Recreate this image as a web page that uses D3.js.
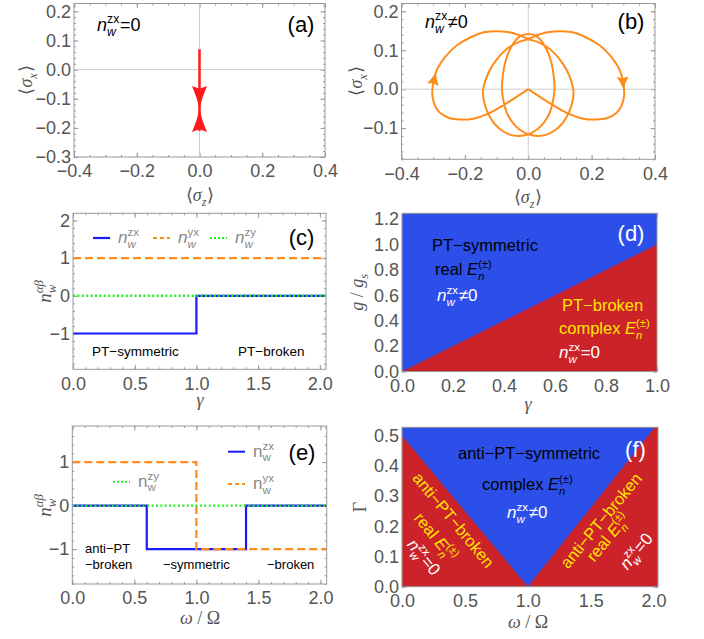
<!DOCTYPE html>
<meta charset="utf-8">
<style>
body { margin: 0; background: #fff; }
text { font-family: 'Liberation Sans', Arial, sans-serif; }
.tick text { font-size: 18px; fill: #555; }
.tick line { stroke: #999; }
</style>
<body>
<script src="https://d3js.org/d3.v7.min.js"></script>
<script>

// ---- tick labels ----
var xTicksAB = [-0.4, -0.2, 0, 0.2, 0.4],
    yTicksA = [-0.3, -0.2, -0.1, 0, 0.1, 0.2],
    yTicksB = [-0.1, 0, 0.1, 0.2],
    xTicksCE = [0, 0.5, 1, 1.5, 2],
    yTicksC = [-1, 0, 1, 2],
    yTicksE = [-1, 0, 1],
    xTicksD = [0, 0.2, 0.4, 0.6, 0.8, 1],
    yTicksD = [0, 0.2, 0.4, 0.6, 0.8, 1, 1.2],
    xTicksF = [0, 0.5, 1, 1.5, 2],
    yTicksF = [0, 0.1, 0.2, 0.3, 0.4, 0.5];

// ---- (a) trajectory: stem ends and arrow tips ----
var aDown = [[0, 0.070], [0, -0.135]],
    aUp = [[0, -0.210], [0, -0.135]];

// ---- (b) trajectory (<sz>, <sx>) ----
var bPath = [
  [0, 0],
  // left loop and big left arc
  [-0.045, -0.024], [-0.089, -0.046], [-0.13, -0.064], [-0.17, -0.075], [-0.215, -0.078],
  [-0.25, -0.074], [-0.277, -0.062], [-0.294, -0.043], [-0.302, -0.02], [-0.302, 0.005],
  [-0.296, 0.032], [-0.283, 0.058], [-0.26, 0.085], [-0.226, 0.112], [-0.18, 0.134],
  [-0.14, 0.146], [-0.1, 0.149], [-0.06, 0.146], [-0.03, 0.139], [0, 0.129],
  // right lobe, upper right
  [0.036, 0.119], [0.07, 0.102], [0.1, 0.076], [0.122, 0.048], [0.136, 0.02], [0.143, -0.008],
  // right lobe, bottom
  [0.138, -0.037], [0.128, -0.06], [0.11, -0.085], [0.0865, -0.104], [0.06, -0.116], [0.03, -0.12],
  [0, -0.1157], [-0.0265, -0.104], [-0.05, -0.085], [-0.068, -0.06], [-0.078, -0.031], [-0.083, 0],
  // small top arch
  [-0.08, 0.037], [-0.072, 0.071], [-0.059, 0.1], [-0.0415, 0.124], [-0.0215, 0.138], [0, 0.142],
  [0.0215, 0.138], [0.0415, 0.124], [0.059, 0.1], [0.072, 0.071], [0.08, 0.037], [0.083, 0],
  // left lobe, bottom
  [0.078, -0.031], [0.068, -0.06], [0.05, -0.085], [0.0265, -0.104], [0, -0.1157], [-0.03, -0.12],
  [-0.06, -0.116], [-0.0865, -0.104], [-0.11, -0.085], [-0.128, -0.06], [-0.138, -0.037], [-0.143, -0.008],
  // left lobe, upper left
  [-0.136, 0.02], [-0.122, 0.048], [-0.1, 0.076], [-0.07, 0.102], [-0.036, 0.119], [0, 0.129],
  // big right arc and right loop
  [0.03, 0.139], [0.06, 0.146], [0.1, 0.149], [0.14, 0.146], [0.18, 0.134], [0.226, 0.112],
  [0.26, 0.085], [0.283, 0.058], [0.296, 0.032], [0.302, 0.005], [0.302, -0.02], [0.294, -0.043],
  [0.277, -0.062], [0.25, -0.074], [0.215, -0.078], [0.17, -0.075], [0.13, -0.064], [0.089, -0.046],
  [0.045, -0.024], [0, 0]
];
var bArrows = [
  [[-0.301, 0.012], [-0.292, 0.043]],
  [[0.297, 0.050], [0.300, 0.000]]
];

// ---- (c) winding numbers vs gamma ----
var cZx = [[0, -1], [1, -1], [1, 0], [2.05, 0]],
    cYx = [[0, 1], [2.05, 1]],
    cZy = [[0, 0], [2.05, 0]];

// ---- (d) phase boundary g/gs = gamma ----
var dBroken = [[0, 0], [1, 1.0], [1, 0]];

// ---- (e) winding numbers vs omega/Omega ----
var eZx = [[0, 0], [0.6, 0], [0.6, -1], [1.4, -1], [1.4, 0], [2.05, 0]],
    eYx = [[0, 1], [1, 1], [1, -1], [2.05, -1]],
    eZy = [[0, 0], [2.05, 0]];

// ---- (f) anti-PT phase boundaries ----
var fBrokenLeft = [[0, 0], [0, 0.5], [1, 0]],
    fBrokenRight = [[1, 0], [2.01, 0.528], [2.035, 0.528], [2.035, 0]];

var SANS = "'Liberation Sans', Arial, sans-serif",
    SERIF = "'Liberation Serif', 'Times New Roman', serif";
var BLUE = "#1a1aff", ORANGE = "#ff8c1a", GREEN = "#22ee22",
    FILLBLUE = "#2d4fe9", FILLRED = "#cc2229", YELLOW = "#ffe600";
var SP = "\u00a0";

var svg = d3.select("body").append("svg")
    .attr("width", 704)
    .attr("height", 639);

function minor(dom, step) {
  return d3.range(Math.ceil(dom[0] / step - 1e-9), Math.floor(dom[1] / step + 1e-9) + 1)
    .map(function(i) { return +(i * step).toFixed(6); });
}

function panel(c) {
  var x = d3.scaleLinear().domain(c.xd).range([c.l, c.r]),
      y = d3.scaleLinear().domain(c.yd).range([c.b, c.t]);
  var g = svg.append("g");
  var mx = minor(c.xd, c.xm), my = minor(c.yd, c.ym);

  g.append("g").attr("transform", "translate(0," + c.b + ")")
    .call(d3.axisBottom(x).tickValues(mx).tickSize(-2).tickFormat(""));
  g.append("g").attr("transform", "translate(0," + c.b + ")")
    .call(d3.axisBottom(x).tickValues(c.xt).tickSize(-4.5).tickPadding(7.5).tickFormat(d3.format(c.fx)));
  g.append("g").attr("transform", "translate(0," + c.t + ")")
    .call(d3.axisTop(x).tickValues(mx).tickSize(-2).tickFormat(""));
  g.append("g").attr("transform", "translate(0," + c.t + ")")
    .call(d3.axisTop(x).tickValues(c.xt).tickSize(-4.5).tickFormat(""));
  g.append("g").attr("transform", "translate(" + c.l + ",0)")
    .call(d3.axisLeft(y).tickValues(my).tickSize(-2).tickFormat(""));
  g.append("g").attr("transform", "translate(" + c.l + ",0)")
    .call(d3.axisLeft(y).tickValues(c.yt).tickSize(-4.5).tickPadding(3).tickFormat(d3.format(c.fy)));
  g.append("g").attr("transform", "translate(" + c.r + ",0)")
    .call(d3.axisRight(y).tickValues(my).tickSize(-2).tickFormat(""));
  g.append("g").attr("transform", "translate(" + c.r + ",0)")
    .call(d3.axisRight(y).tickValues(c.yt).tickSize(-4.5).tickFormat(""));
  g.selectAll(".domain").remove();

  var p = g.append("g");
  g.append("rect")
    .attr("x", c.l).attr("y", c.t)
    .attr("width", c.r - c.l).attr("height", c.b - c.t)
    .attr("fill", "none").attr("stroke", "#999").attr("stroke-width", 1);
  return {g: g, p: p, x: x, y: y};
}

// rich text: parts are {t, it} runs or {sup, sub} stacked scripts
function rich(parent, x, y, parts, o) {
  o = Object.assign({size: 16, fill: "#000", anchor: "start", rot: 0, fam: SANS, vc: false}, o);
  var outer = parent.append("g").attr("fill", o.fill)
      .attr("transform", "translate(" + x + "," + y + ") rotate(" + o.rot + ")");
  var inner = outer.append("g");
  var cx = 0, s = o.size, ss = s * 0.68;
  parts.forEach(function(p) {
    if (p.t !== undefined) {
      var t = inner.append("text").attr("x", cx)
          .style("font-family", o.fam).style("font-size", s + "px")
          .style("font-style", p.it ? "italic" : "normal").text(p.t);
      cx += t.node().getComputedTextLength();
    } else {
      var w = 0;
      if (p.sup) {
        var a = inner.append("text").attr("x", cx).attr("y", -s * 0.42)
            .style("font-family", o.fam).style("font-size", ss + "px")
            .style("font-style", p.supIt ? "italic" : "normal").text(p.sup);
        w = Math.max(w, a.node().getComputedTextLength());
      }
      if (p.sub) {
        var b = inner.append("text").attr("x", cx).attr("y", s * 0.28)
            .style("font-family", o.fam).style("font-size", ss + "px")
            .style("font-style", p.subIt ? "italic" : "normal").text(p.sub);
        w = Math.max(w, b.node().getComputedTextLength());
      }
      cx += w + s * 0.04;
    }
  });
  var dx = o.anchor === "middle" ? -cx / 2 : (o.anchor === "end" ? -cx : 0);
  inner.attr("transform", "translate(" + dx + "," + (o.vc ? s * 0.35 : 0) + ")");
  return outer;
}

function nw(sup, tail, upright) {
  return [{t: "n", it: !upright}, {sup: sup, sub: "w", subIt: !upright}].concat(tail ? [{t: tail}] : []);
}
var En = [{t: "E", it: true}, {sup: "(\u00b1)", sub: "n", subIt: true}];
var sigma = function(c) { return [{t: "\u27e8"}, {t: "\u03c3", it: true}, {sub: c, subIt: true}, {t: "\u27e9"}]; };

function arrowHead(P, from, tip, L, hw, color) {
  var x0 = P.x(from[0]), y0 = P.y(from[1]), x1 = P.x(tip[0]), y1 = P.y(tip[1]);
  var dx = x1 - x0, dy = y1 - y0, d = Math.hypot(dx, dy),
      ux = dx / d, uy = dy / d, nx = -uy, ny = ux;
  var bx = x1 - ux * L, by = y1 - uy * L;
  var l = [bx + nx * hw, by + ny * hw], r = [bx - nx * hw, by - ny * hw],
      n = [x1 - ux * L * 0.88, y1 - uy * L * 0.88];
  var cl = [(x1 + l[0]) / 2 - nx * hw * 0.18, (y1 + l[1]) / 2 - ny * hw * 0.18],
      cr = [(x1 + r[0]) / 2 + nx * hw * 0.18, (y1 + r[1]) / 2 + ny * hw * 0.18];
  P.p.append("path")
    .attr("d", "M" + x1 + "," + y1 + "Q" + cl + " " + l + "L" + n + "L" + r + "Q" + cr + " " + x1 + "," + y1 + "Z")
    .attr("fill", color);
}

function zeroGrid(P) {
  P.p.append("line").attr("x1", P.x.range()[0]).attr("x2", P.x.range()[1])
    .attr("y1", P.y(0)).attr("y2", P.y(0)).attr("stroke", "#ccc");
  P.p.append("line").attr("x1", P.x(0)).attr("x2", P.x(0))
    .attr("y1", P.y.range()[0]).attr("y2", P.y.range()[1]).attr("stroke", "#ccc");
}

function lineOf(P) {
  return d3.line().x(function(d) { return P.x(d[0]); }).y(function(d) { return P.y(d[1]); });
}

// ================= (a) =================
var A = panel({l: 74, r: 325, t: 3.5, b: 157, xd: [-0.4, 0.4], yd: [-0.3, 0.227],
               xt: xTicksAB, yt: yTicksA, xm: 0.05, ym: 0.02, fx: ".1f", fy: ".1f"});
zeroGrid(A);
[aDown, aUp].forEach(function(s) {
  A.p.append("path").attr("d", lineOf(A)(s)).attr("stroke", "#ff1a1a")
    .attr("stroke-width", 2.5).attr("fill", "none");
  arrowHead(A, s[0], s[1], 23, 7.5, "#ff1a1a");
});

// ================= (b) =================
var B = panel({l: 401.5, r: 655, t: 3.5, b: 159.3, xd: [-0.4, 0.4], yd: [-0.18, 0.22],
               xt: xTicksAB, yt: yTicksB, xm: 0.05, ym: 0.02, fx: ".1f", fy: ".1f"});
zeroGrid(B);
B.p.append("path").attr("d", lineOf(B).curve(d3.curveCatmullRom.alpha(0.5))(bPath))
  .attr("stroke", ORANGE).attr("stroke-width", 2).attr("fill", "none");
bArrows.forEach(function(a) { arrowHead(B, a[0], a[1], 12.5, 6, ORANGE); });

// ================= (c) =================
var C = panel({l: 73, r: 326, t: 213.3, b: 369.3, xd: [0, 2.05], yd: [-1.95, 2.19],
               xt: xTicksCE, yt: yTicksC, xm: 0.1, ym: 0.2, fx: ".1f", fy: "d"});
C.p.append("path").attr("d", lineOf(C)(cZx)).attr("stroke", BLUE).attr("stroke-width", 2.2).attr("fill", "none");
C.p.append("path").attr("d", lineOf(C)(cYx)).attr("stroke", ORANGE).attr("stroke-width", 2.2)
  .attr("stroke-dasharray", "8,4").attr("fill", "none");
C.p.append("path").attr("d", lineOf(C)(cZy)).attr("stroke", GREEN).attr("stroke-width", 2.4)
  .attr("stroke-dasharray", "2,2.4").attr("fill", "none");

// ================= (d) =================
var D = panel({l: 402, r: 657, t: 213.3, b: 371.5, xd: [0, 1], yd: [0, 1.245],
               xt: xTicksD, yt: yTicksD, xm: 0.05, ym: 0.05, fx: ".1f", fy: ".1f"});
D.p.append("rect").attr("x", D.x(0)).attr("y", D.y(1.245))
  .attr("width", D.x(1) - D.x(0)).attr("height", D.y(0) - D.y(1.245)).attr("fill", FILLBLUE);
D.p.append("path").attr("d", lineOf(D)(dBroken) + "Z").attr("fill", FILLRED);

// ================= (e) =================
var E = panel({l: 72.3, r: 326.7, t: 426, b: 584, xd: [0, 2.05], yd: [-1.8, 1.83],
               xt: xTicksCE, yt: yTicksE, xm: 0.1, ym: 0.2, fx: ".1f", fy: "d"});
E.p.append("path").attr("d", lineOf(E)(eZx)).attr("stroke", BLUE).attr("stroke-width", 2.2).attr("fill", "none");
E.p.append("path").attr("d", lineOf(E)(eYx)).attr("stroke", ORANGE).attr("stroke-width", 2.2)
  .attr("stroke-dasharray", "8,4").attr("fill", "none");
E.p.append("path").attr("d", lineOf(E)(eZy)).attr("stroke", GREEN).attr("stroke-width", 2.4)
  .attr("stroke-dasharray", "2,2.4").attr("fill", "none");

// ================= (f) =================
var F = panel({l: 402, r: 658, t: 427.3, b: 586.7, xd: [0, 2.035], yd: [0, 0.528],
               xt: xTicksF, yt: yTicksF, xm: 0.1, ym: 0.02, fx: ".1f", fy: ".1f"});
F.p.append("rect").attr("x", F.x(0)).attr("y", F.y(0.528))
  .attr("width", F.x(2.035) - F.x(0)).attr("height", F.y(0) - F.y(0.528)).attr("fill", FILLBLUE);
[fBrokenLeft, fBrokenRight].forEach(function(poly) {
  F.p.append("path").attr("d", lineOf(F)(poly) + "Z").attr("fill", FILLRED);
});

// ================= labels =================
var T = svg.append("g");
var AX = {size: 18, fill: "#555", anchor: "middle", fam: SERIF};
var AXR = Object.assign({}, AX, {rot: -90, vc: true});

// axis labels
rich(T, 200, 201, sigma("z"), AX);
rich(T, 528, 203, sigma("z"), AX);
rich(T, 26, 80, sigma("x"), AXR);
rich(T, 356, 81, sigma("x"), AXR);
rich(T, 200, 406, [{t: "\u03b3", it: true}], AX);
rich(T, 528, 410, [{t: "\u03b3", it: true}], AX);
rich(T, 200, 624, [{t: "\u03c9", it: true}, {t: SP + "/" + SP + "\u03a9"}], AX);
rich(T, 528, 628, [{t: "\u03c9", it: true}, {t: SP + "/" + SP + "\u03a9"}], AX);
var nab = [{t: "n", it: true}, {sup: "\u03b1\u03b2", sub: "w", supIt: true, subIt: true}];
rich(T, 44, 291, nab, Object.assign({}, AXR, {size: 19}));
rich(T, 44, 505, nab, Object.assign({}, AXR, {size: 19}));
rich(T, 357, 292, [{t: "g", it: true}, {t: SP + "/" + SP}, {t: "g", it: true}, {sub: "s", subIt: true}], AXR);
rich(T, 360, 507, [{t: "\u0393"}], AXR);

// panel tags
[["(a)", 301, 32, "#000"], ["(b)", 631, 29, "#000"], ["(c)", 301.5, 245, "#000"],
 ["(d)", 631, 241, "#fff"], ["(e)", 302, 460, "#000"], ["(f)", 635.5, 457, "#fff"]]
  .forEach(function(t) { rich(T, t[1], t[2], [{t: t[0]}], {size: 22, fill: t[3], anchor: "middle"}); });

// (a), (b) annotations
rich(T, 97, 31, nw("zx", "=0"), {size: 18});
rich(T, 425, 28, nw("zx", "\u2260" + "0"), {size: 18});

// (c) legend and phases
[[BLUE, null, 93, 238, "zx"], [ORANGE, "4,3", 153, 238, "yx"], [GREEN, "2,2", 210, 238, "zy"]]
  .forEach(function(l) {
    T.append("line").attr("x1", l[2]).attr("x2", l[2] + 17).attr("y1", l[3]).attr("y2", l[3])
      .attr("stroke", l[0]).attr("stroke-width", 2.2).attr("stroke-dasharray", l[1]);
    rich(T, l[2] + 25, l[3] + 5, nw(l[4]), {size: 17, fill: "#888"});
  });
rich(T, 92, 356, [{t: "PT\u2212symmetric"}], {size: 13.5});
rich(T, 238, 356, [{t: "PT\u2212broken"}], {size: 13.5});

// (e) legend and phases
[[BLUE, null, 228, 451.7, "zx"], [ORANGE, "4,3", 228, 484, "yx"], [GREEN, "2,2", 113, 481.7, "zy"]]
  .forEach(function(l) {
    T.append("line").attr("x1", l[2]).attr("x2", l[2] + 17).attr("y1", l[3]).attr("y2", l[3])
      .attr("stroke", l[0]).attr("stroke-width", 2).attr("stroke-dasharray", l[1]);
    rich(T, l[2] + 25, l[3] + 5, nw(l[4], null, true), {size: 17, fill: "#888"});
  });
rich(T, 85, 553, [{t: "anti\u2212PT"}], {size: 13});
rich(T, 85, 569, [{t: "\u2212broken"}], {size: 13});
rich(T, 163, 569, [{t: "\u2212symmetric"}], {size: 13});
rich(T, 267, 569, [{t: "\u2212broken"}], {size: 13});

// (d) phases
rich(T, 432, 251, [{t: "PT\u2212symmetric"}], {size: 16.5});
rich(T, 435, 275, [{t: "real" + SP}].concat(En), {size: 16.5});
rich(T, 437, 301, nw("zx", "\u2260" + "0"), {size: 17, fill: "#fff"});
rich(T, 562, 311, [{t: "PT\u2212broken"}], {size: 16.5, fill: YELLOW});
rich(T, 559, 334, [{t: "complex" + SP}].concat(En), {size: 16.5, fill: YELLOW});
rich(T, 559, 358, nw("zx", "=0"), {size: 17, fill: "#fff"});

// (f) phases
rich(T, 458, 459, [{t: "anti\u2212PT\u2212symmetric"}], {size: 16.5});
rich(T, 482, 490, [{t: "complex" + SP}].concat(En), {size: 16.5});
rich(T, 507, 518, nw("zx", "\u2260" + "0"), {size: 17, fill: "#fff"});
rich(T, 453.5, 520, [{t: "anti\u2212PT\u2212broken"}], {size: 16.5, fill: YELLOW, anchor: "middle", rot: 50.5, vc: true});
rich(T, 436, 537, [{t: "real" + SP}].concat(En), {size: 16.5, fill: YELLOW, anchor: "middle", rot: 50.5, vc: true});
rich(T, 424, 557, nw("zx", "=0"), {size: 17, fill: "#fff", anchor: "middle", rot: 50.5, vc: true});
rich(T, 601, 520.5, [{t: "anti\u2212PT\u2212broken"}], {size: 16.5, fill: YELLOW, anchor: "middle", rot: -50.5, vc: true});
rich(T, 608, 537, [{t: "real" + SP}].concat(En), {size: 16.5, fill: YELLOW, anchor: "middle", rot: -50.5, vc: true});
rich(T, 636, 551, nw("zx", "=0"), {size: 17, fill: "#fff", anchor: "middle", rot: -50.5, vc: true});

</script>
</body>
